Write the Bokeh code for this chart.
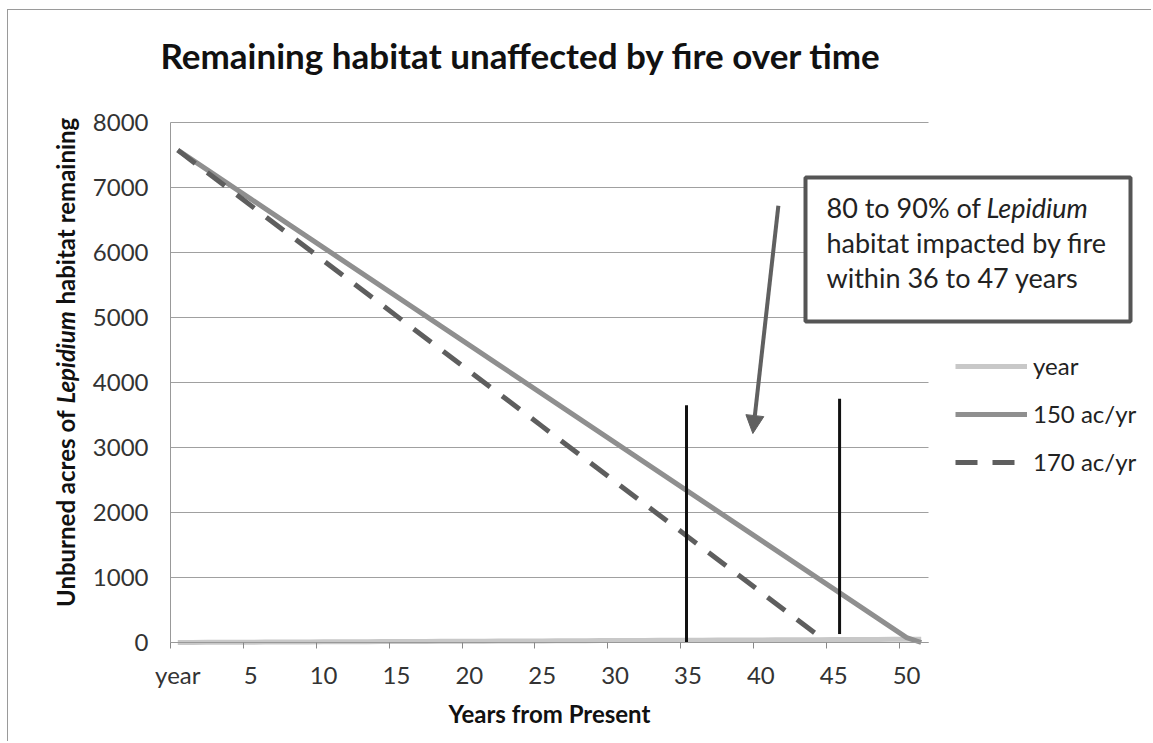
import math
from bokeh.plotting import figure
from bokeh.models import (FixedTicker, Label, Legend, LegendItem, Arrow, NormalHead,
                          BoxAnnotation, Grid)
from bokeh.embed import file_html
from bokeh.resources import INLINE

# ---------------- data ----------------
x_index = list(range(52))  # category positions: "year", 1 ... 51
tick_positions = [0, 5, 10, 15, 20, 25, 30, 35, 40, 45, 50]
tick_labels = ["year", "5", "10", "15", "20", "25", "30", "35", "40", "45", "50"]
category_boundaries = [-0.5, 4.5, 9.5, 14.5, 19.5, 24.5, 29.5, 34.5, 39.5, 44.5, 49.5]
y_ticks = [0, 1000, 2000, 3000, 4000, 5000, 6000, 7000, 8000]

year_values = [0, 1, 2, 3, 4, 5, 6, 7, 8, 9, 10, 11, 12, 13, 14, 15, 16, 17, 18, 19,
               20, 21, 22, 23, 24, 25, 26, 27, 28, 29, 30, 31, 32, 33, 34, 35, 36, 37,
               38, 39, 40, 41, 42, 43, 44, 45, 46, 47, 48, 49, 50, 51]
acres_150 = [7575, 7425, 7275, 7125, 6975, 6825, 6675, 6525, 6375, 6225, 6075, 5925,
             5775, 5625, 5475, 5325, 5175, 5025, 4875, 4725, 4575, 4425, 4275, 4125,
             3975, 3825, 3675, 3525, 3375, 3225, 3075, 2925, 2775, 2625, 2475, 2325,
             2175, 2025, 1875, 1725, 1575, 1425, 1275, 1125, 975, 825, 675, 525, 375,
             225, 75, 0]
acres_170 = [7575, 7405, 7235, 7065, 6895, 6725, 6555, 6385, 6215, 6045, 5875, 5705,
             5535, 5365, 5195, 5025, 4855, 4685, 4515, 4345, 4175, 4005, 3835, 3665,
             3495, 3325, 3155, 2985, 2815, 2645, 2475, 2305, 2135, 1965, 1795, 1625,
             1455, 1285, 1115, 945, 775, 605, 435, 265, 95]

marker_x = [34.9, 45.4]
marker_bottom = [0, 130]
marker_top = [3650, 3750]
arrow_from = (41.2, 6720)
arrow_to = (39.45, 3215)

FONT = "Lato"

# ---------------- geometry ----------------
W, H = 1144, 732          # canvas size
X0, Y0 = 8, 10            # canvas origin on the page
PLOT_L, PLOT_R, PLOT_T, PLOT_B = 170, 928, 122, 642   # plot area on the page
XMIN, XMAX = -0.5, 51.5
YMIN, YMAX = 0, 8000
sxu = (PLOT_R - PLOT_L) / (XMAX - XMIN)
syu = (PLOT_B - PLOT_T) / (YMAX - YMIN)
x_start = XMIN - (PLOT_L - X0) / sxu
x_end = x_start + W / sxu
y_end = YMAX + (PLOT_T - Y0) / syu
y_start = y_end - H / syu


def fx(px):
    return px - X0


def fy(py):
    return H - (py - Y0)


p = figure(width=W, height=H, min_border=0, title=None,
           x_range=(x_start, x_end), y_range=(y_start, y_end),
           output_backend="svg", toolbar_location=None)
p.styles = {"margin-left": "7px", "margin-top": "9px",
            "border-left": "1px solid #9a9a9a", "border-top": "1px solid #9a9a9a"}
p.outline_line_color = None
p.background_fill_color = "white"
p.border_fill_color = "white"

# grid
p.xgrid.visible = False
if "cross_bounds" in Grid.properties():
    p.ygrid.ticker = FixedTicker(ticks=y_ticks)
    p.ygrid.cross_bounds = (XMIN, XMAX)
    p.ygrid.grid_line_color = "#a0a0a0"
    p.ygrid.grid_line_width = 1
else:
    p.ygrid.visible = False
    p.segment(x0=[XMIN] * len(y_ticks), x1=[XMAX] * len(y_ticks), y0=y_ticks, y1=y_ticks,
              line_color="#a0a0a0", line_width=1)

# x axis
xa = p.xaxis[0]
xa.fixed_location = YMIN
xa.bounds = (XMIN, XMAX)
xa.ticker = FixedTicker(ticks=tick_positions, minor_ticks=category_boundaries)
xa.major_label_overrides = {t: l for t, l in zip(tick_positions, tick_labels)}
xa.major_tick_out = 0
xa.major_tick_in = 0
xa.minor_tick_out = 6
xa.minor_tick_in = 0
xa.minor_tick_line_color = "#888888"
xa.axis_line_color = "#999999"
xa.major_label_text_font = FONT
xa.major_label_text_font_size = "24px"
xa.major_label_text_color = "#333333"
xa.major_label_standoff = 11
xa.axis_label = "Years from Present"
xa.axis_label_text_font = FONT
xa.axis_label_text_font_style = "bold"
xa.axis_label_text_font_size = "24px"
xa.axis_label_text_color = "#111111"
xa.axis_label_standoff = 7

# y axis
ya = p.yaxis[0]
ya.fixed_location = XMIN
ya.bounds = (YMIN, YMAX)
ya.ticker = FixedTicker(ticks=y_ticks)
ya.major_tick_out = 0
ya.major_tick_in = 0
ya.minor_tick_line_color = None
ya.axis_line_color = "#999999"
ya.major_label_text_font = FONT
ya.major_label_text_font_size = "24px"
ya.major_label_text_color = "#333333"
ya.major_label_standoff = 22

# series
r_year = p.line(x_index, year_values, line_color="#c8c8c8", line_width=5)
r150 = p.line(x_index, acres_150, line_color="#8f8f8f", line_width=5)
r170 = p.line(x_index[:len(acres_170)], acres_170, line_color="#5e5e5e", line_width=5,
              line_dash="22 15")

# vertical marker lines
p.segment(x0=marker_x, y0=marker_bottom, x1=marker_x, y1=marker_top,
          line_color="#111111", line_width=3)

# arrow
p.add_layout(Arrow(end=NormalHead(size=18, fill_color="#606060", line_color="#606060"),
                   x_start=arrow_from[0], y_start=arrow_from[1],
                   x_end=arrow_to[0], y_end=arrow_to[1],
                   line_color="#606060", line_width=4))

# annotation box
p.add_layout(BoxAnnotation(left=fx(805), right=fx(1130), top=fy(177), bottom=fy(321),
                           left_units="screen", right_units="screen",
                           bottom_units="screen", top_units="screen",
                           fill_color="white", fill_alpha=1.0,
                           line_color="#555555", line_width=4, line_alpha=1.0))

BOX_FS = "27px"
box_lines = [("80 to 90% of", 207), ("habitat impacted by fire", 242),
             ("within 36 to 47 years", 277)]
for txt, by in box_lines:
    p.add_layout(Label(x=fx(826), y=fy(by), x_units="screen", y_units="screen", text=txt,
                       text_font=FONT, text_font_size=BOX_FS, text_color="#222222",
                       text_baseline="alphabetic", text_align="left"))
p.add_layout(Label(x=fx(986), y=fy(207), x_units="screen", y_units="screen", text="Lepidium",
                   text_font=FONT, text_font_size=BOX_FS, text_font_style="italic",
                   text_color="#222222", text_baseline="alphabetic", text_align="left"))

# title
p.add_layout(Label(x=fx(160), y=fy(54), x_units="screen", y_units="screen",
                   text="Remaining habitat unaffected by fire over time",
                   text_font=FONT, text_font_size="35px", text_font_style="bold",
                   text_color="#111111", text_baseline="alphabetic", text_align="left"))

# y axis label pieces (rotated, reading bottom to top)
lep_start = fy(403)
hab_start = fy(304)
for txt, yy, align, style in [("Unburned acres of", lep_start - 7, "right", "bold"),
                              ("Lepidium", lep_start, "left", "bold italic"),
                              ("habitat remaining", hab_start, "left", "bold")]:
    p.add_layout(Label(x=fx(65), y=yy, x_units="screen", y_units="screen", text=txt,
                       angle=math.pi / 2, text_font=FONT, text_font_size="24px",
                       text_font_style=style, text_color="#111111",
                       text_baseline="alphabetic", text_align=align))

# legend
legend = Legend(items=[LegendItem(label="year", renderers=[r_year]),
                       LegendItem(label="150 ac/yr", renderers=[r150]),
                       LegendItem(label="170 ac/yr", renderers=[r170])],
                location=(fx(955), fy(476)), orientation="vertical",
                border_line_color=None, background_fill_alpha=0,
                padding=0, margin=0, spacing=19,
                glyph_width=72, glyph_height=24, label_height=24, label_standoff=6,
                label_text_font=FONT, label_text_font_size="24px",
                label_text_color="#222222")
p.add_layout(legend)

open("out.html", "w").write(file_html(p, INLINE))
